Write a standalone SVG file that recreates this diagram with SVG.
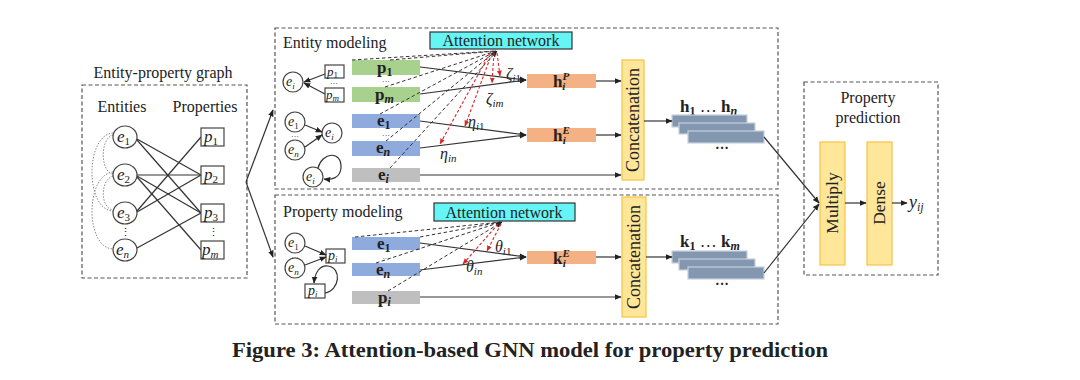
<svg xmlns="http://www.w3.org/2000/svg" width="1080" height="380" viewBox="0 0 1080 380">
<defs>
<marker id="ar" viewBox="0 0 10 10" refX="9" refY="5" markerWidth="7" markerHeight="7" markerUnits="userSpaceOnUse" orient="auto"><path d="M0,1 L10,5 L0,9 z" fill="#222"/></marker>
<marker id="arr" viewBox="0 0 10 10" refX="9" refY="5" markerWidth="6" markerHeight="6" markerUnits="userSpaceOnUse" orient="auto"><path d="M0,1 L10,5 L0,9 z" fill="#d9262a"/></marker>
<style>
text{font-family:"Liberation Serif","Times New Roman",serif;fill:#222}
.dash{fill:none;stroke:#555;stroke-width:1.2;stroke-dasharray:4,2.5}
.ln{stroke:#333;stroke-width:1.2;fill:none}
.dl{stroke:#333;stroke-width:1;stroke-dasharray:3.5,2.5;fill:none}
.rd{stroke:#d9262a;stroke-width:1.1;stroke-dasharray:3,2;fill:none}
.dot{stroke:#888;stroke-width:1;stroke-dasharray:1.5,1.5;fill:none}
.nd{fill:#fff;stroke:#444;stroke-width:1.2}
.g{fill:#a9d18e}.b{fill:#8faadc}.gr{fill:#bfbfbf}.o{fill:#f4b183}
.att{fill:#66f5f5;stroke:#333;stroke-width:1.2}
.cat{fill:#ffe699;stroke:#f7c345;stroke-width:1.2}
.stk{fill:#8497b0;stroke:#c7d0dc;stroke-width:1.2}
.it{font-style:italic}
.bd{font-weight:bold}
.el{font-size:8px;text-anchor:middle}
</style>
</defs>
<rect width="1080" height="380" fill="#fff"/>

<!-- Entity-property graph -->
<g id="graph">
<text x="163" y="78" font-size="16" text-anchor="middle">Entity-property graph</text>
<rect class="dash" x="82" y="85" width="165" height="193"/>
<text x="122" y="112" font-size="16" text-anchor="middle">Entities</text>
<text x="205" y="112" font-size="16" text-anchor="middle">Properties</text>
<g class="ln">
<line x1="137" y1="139" x2="201" y2="175"/>
<line x1="137" y1="140" x2="201" y2="213"/>
<line x1="137" y1="175" x2="201" y2="175"/>
<line x1="137" y1="176" x2="201" y2="213"/>
<line x1="137" y1="177" x2="201" y2="250"/>
<line x1="137" y1="211" x2="201" y2="137"/>
<line x1="137" y1="212" x2="201" y2="175"/>
<line x1="137" y1="248" x2="201" y2="213"/>
</g>
<path class="dot" d="M113,135 C100,138 100,172 113,174"/>
<path class="dot" d="M113,133 C85,135 85,210 113,211"/>
<path class="dot" d="M113,172 C85,175 85,248 113,249"/>
<path class="dot" d="M113,176 C100,180 100,208 113,210"/>
<g id="e1n"><ellipse class="nd" cx="125" cy="137" rx="12" ry="11"/><text x="117" y="142" font-size="17" class="it">e<tspan font-size="11" dy="3" font-style="normal">1</tspan></text></g>
<g id="e2n"><ellipse class="nd" cx="125" cy="175" rx="12" ry="11"/><text x="117" y="180" font-size="17" class="it">e<tspan font-size="11" dy="3" font-style="normal">2</tspan></text></g>
<g id="e3n"><ellipse class="nd" cx="125" cy="213" rx="12" ry="11"/><text x="117" y="218" font-size="17" class="it">e<tspan font-size="11" dy="3" font-style="normal">3</tspan></text></g>
<text x="125" y="236" font-size="11" text-anchor="middle">⋮</text>
<g id="enn"><ellipse class="nd" cx="125" cy="250" rx="12" ry="11"/><text x="116" y="255" font-size="17" class="it">e<tspan font-size="11" dy="3">n</tspan></text></g>
<g id="p1n"><rect class="nd" x="201" y="128" width="23" height="18"/><text x="204" y="142" font-size="17" class="it">p<tspan font-size="11" dy="3" font-style="normal">1</tspan></text></g>
<g id="p2n"><rect class="nd" x="201" y="166" width="23" height="18"/><text x="204" y="180" font-size="17" class="it">p<tspan font-size="11" dy="3" font-style="normal">2</tspan></text></g>
<g id="p3n"><rect class="nd" x="201" y="204" width="23" height="18"/><text x="204" y="218" font-size="17" class="it">p<tspan font-size="11" dy="3" font-style="normal">3</tspan></text></g>
<text x="213" y="236" font-size="11" text-anchor="middle">⋮</text>
<g id="pmn"><rect class="nd" x="201" y="241" width="23" height="18"/><text x="202" y="255" font-size="17" class="it">p<tspan font-size="11" dy="3">m</tspan></text></g>
</g>

<!-- Entity modeling -->
<g id="entity-modeling">
<rect class="dash" x="275" y="28" width="503" height="161"/>
<text x="283" y="48" font-size="16">Entity modeling</text>
<rect class="att" x="430" y="32" width="142" height="17"/>
<text x="501" y="46" font-size="16" text-anchor="middle">Attention network</text>
<ellipse class="nd" cx="293" cy="82" rx="10" ry="10"/><text x="286" y="86" font-size="14" class="it">e<tspan font-size="9" dy="3">i</tspan></text>
<rect class="nd" x="325" y="65" width="19" height="13"/><text x="327" y="76" font-size="13" class="it">p<tspan font-size="9" dy="2" font-style="normal">1</tspan></text>
<text x="334" y="86" class="el">···</text>
<rect class="nd" x="325" y="88" width="19" height="14"/><text x="326" y="99" font-size="13" class="it">p<tspan font-size="9" dy="2">m</tspan></text>
<line class="ln" x1="325" y1="74" x2="304" y2="82" marker-end="url(#ar)"/>
<line class="ln" x1="325" y1="94" x2="304" y2="83" marker-end="url(#ar)"/>
<ellipse class="nd" cx="295" cy="122" rx="10" ry="10"/><text x="288" y="126" font-size="14" class="it">e<tspan font-size="9" dy="3" font-style="normal">1</tspan></text>
<text x="295" y="139" class="el">···</text>
<ellipse class="nd" cx="295" cy="150" rx="10" ry="10"/><text x="288" y="154" font-size="14" class="it">e<tspan font-size="9" dy="3">n</tspan></text>
<ellipse class="nd" cx="332" cy="133" rx="10" ry="10"/><text x="325" y="137" font-size="14" class="it">e<tspan font-size="9" dy="3">i</tspan></text>
<line class="ln" x1="305" y1="125" x2="322" y2="132" marker-end="url(#ar)"/>
<line class="ln" x1="305" y1="147" x2="322" y2="135" marker-end="url(#ar)"/>
<ellipse class="nd" cx="313" cy="177" rx="10" ry="10"/><text x="306" y="181" font-size="14" class="it">e<tspan font-size="9" dy="3">i</tspan></text>
<path class="ln" d="M318,168 C322,152 342,150 341,168 C340,178 332,180 324,179" marker-end="url(#ar)"/>
<rect class="g" x="352" y="60" width="68" height="15"/>
<text x="377" y="73" font-size="17" class="bd">p<tspan font-size="12" dy="3">1</tspan></text>
<text x="386" y="84" class="el">···</text>
<rect class="g" x="352" y="87" width="68" height="15"/>
<text x="375" y="100" font-size="17" class="bd">p<tspan font-size="12" dy="3" class="it">m</tspan></text>
<rect class="b" x="352" y="114" width="68" height="14"/>
<text x="377" y="126" font-size="17" class="bd">e<tspan font-size="12" dy="3">1</tspan></text>
<text x="386" y="138" class="el">···</text>
<rect class="b" x="352" y="141" width="68" height="15"/>
<text x="376" y="153" font-size="17" class="bd">e<tspan font-size="12" dy="3" class="it">n</tspan></text>
<rect class="gr" x="352" y="168" width="68" height="14"/>
<text x="378" y="180" font-size="17" class="bd">e<tspan font-size="12" dy="3" class="it">i</tspan></text>
<rect class="o" x="527" y="74" width="69" height="14"/>
<text x="553" y="87" font-size="17" class="bd">h<tspan font-size="11" dy="-7" class="it">P</tspan><tspan font-size="11" dx="-7" dy="10" class="it">i</tspan></text>
<rect class="o" x="527" y="128" width="69" height="14"/>
<text x="553" y="141" font-size="17" class="bd">h<tspan font-size="11" dy="-7" class="it">E</tspan><tspan font-size="11" dx="-7" dy="10" class="it">i</tspan></text>
<rect class="cat" x="622" y="60" width="22" height="120"/>
<text transform="translate(639,120) rotate(-90)" font-size="18" text-anchor="middle">Concatenation</text>
<text x="506" y="79" font-size="16" class="it">ζ<tspan font-size="11" dy="3">i</tspan><tspan font-size="11" font-style="normal">1</tspan></text>
<text x="486" y="104" font-size="16" class="it">ζ<tspan font-size="11" dy="3">im</tspan></text>
<text x="468" y="127" font-size="16" class="it">η<tspan font-size="11" dy="3">i</tspan><tspan font-size="11" font-style="normal">1</tspan></text>
<text x="440" y="159" font-size="16" class="it">η<tspan font-size="11" dy="3">in</tspan></text>
</g>

<!-- Property modeling -->
<g id="property-modeling">
<rect class="dash" x="275" y="195" width="503" height="129"/>
<text x="283" y="217" font-size="16">Property modeling</text>
<rect class="att" x="434" y="203" width="141" height="18"/>
<text x="504" y="218" font-size="16" text-anchor="middle">Attention network</text>
<ellipse class="nd" cx="295" cy="243" rx="10" ry="10"/><text x="288" y="247" font-size="14" class="it">e<tspan font-size="9" dy="3" font-style="normal">1</tspan></text>
<text x="295" y="260" font-size="7" text-anchor="middle">···</text>
<ellipse class="nd" cx="295" cy="268" rx="10" ry="10"/><text x="288" y="272" font-size="14" class="it">e<tspan font-size="9" dy="3">n</tspan></text>
<rect class="nd" x="326" y="249" width="19" height="14"/><text x="328" y="260" font-size="14" class="it">p<tspan font-size="9" dy="2">i</tspan></text>
<line class="ln" x1="305" y1="246" x2="326" y2="255" marker-end="url(#ar)"/>
<line class="ln" x1="305" y1="265" x2="326" y2="257" marker-end="url(#ar)"/>
<rect class="nd" x="305" y="284" width="20" height="14"/><text x="308" y="295" font-size="14" class="it">p<tspan font-size="9" dy="2">i</tspan></text>
<path class="ln" d="M325,293 C340,290 342,268 328,266 C320,265 315,272 314,283" marker-end="url(#ar)"/>
<rect class="b" x="352" y="237" width="68" height="13"/>
<text x="377" y="249" font-size="17" class="bd">e<tspan font-size="12" dy="3">1</tspan></text>
<text x="386" y="261" font-size="7" text-anchor="middle">···</text>
<rect class="b" x="352" y="263" width="68" height="13"/>
<text x="376" y="275" font-size="17" class="bd">e<tspan font-size="12" dy="3" class="it">n</tspan></text>
<rect class="gr" x="352" y="291" width="68" height="13"/>
<text x="378" y="303" font-size="17" class="bd">p<tspan font-size="12" dy="3" class="it">i</tspan></text>
<rect class="o" x="527" y="251" width="69" height="13"/>
<text x="553" y="264" font-size="17" class="bd">k<tspan font-size="11" dy="-7" class="it">E</tspan><tspan font-size="11" dx="-7" dy="10" class="it">i</tspan></text>
<rect class="cat" x="622" y="197" width="24" height="120"/>
<text transform="translate(640,257) rotate(-90)" font-size="18" text-anchor="middle">Concatenation</text>
<text x="495" y="252" font-size="16" class="it">θ<tspan font-size="11" dy="3">i</tspan><tspan font-size="11" font-style="normal">1</tspan></text>
<text x="466" y="272" font-size="16" class="it">θ<tspan font-size="11" dy="3">in</tspan></text>
</g>

<g id="h-stack">
<text x="680" y="112" font-size="17" class="bd">h<tspan font-size="12" dy="3">1</tspan><tspan dy="-3" font-weight="normal"> … </tspan>h<tspan font-size="12" dy="3" class="it">n</tspan></text>
<rect class="stk" x="672" y="115" width="75" height="12"/>
<rect class="stk" x="679" y="123" width="76" height="11"/>
<rect class="stk" x="688" y="131" width="76" height="12"/>
<text x="722" y="153" font-size="14" text-anchor="middle" class="bd">···</text>
</g>
<g id="k-stack">
<text x="680" y="247" font-size="17" class="bd">k<tspan font-size="12" dy="3">1</tspan><tspan dy="-3" font-weight="normal"> … </tspan>k<tspan font-size="12" dy="3" class="it">m</tspan></text>
<rect class="stk" x="672" y="251" width="75" height="12"/>
<rect class="stk" x="679" y="259" width="76" height="11"/>
<rect class="stk" x="688" y="267" width="76" height="12"/>
<text x="722" y="289" font-size="14" text-anchor="middle" class="bd">···</text>
</g>

<g id="prediction">
<rect class="dash" x="804" y="82" width="134" height="193"/>
<text x="868" y="103" font-size="16" text-anchor="middle">Property</text>
<text x="868" y="123" font-size="16" text-anchor="middle">prediction</text>
<rect class="cat" x="820" y="142" width="25" height="123"/>
<text transform="translate(838,203) rotate(-90)" font-size="17.5" text-anchor="middle">Multiply</text>
<rect class="cat" x="867" y="142" width="25" height="123"/>
<text transform="translate(885,203) rotate(-90)" font-size="17.5" text-anchor="middle">Dense</text>
<text x="909" y="208" font-size="18" class="it">y<tspan font-size="12" dy="3">ij</tspan></text>
</g>

<g id="connectors">
<line class="ln" x1="246" y1="182" x2="273" y2="110" marker-end="url(#ar)"/>
<line class="ln" x1="246" y1="182" x2="273" y2="257" marker-end="url(#ar)"/>
<line class="ln" x1="420" y1="67" x2="526" y2="80" marker-end="url(#ar)"/>
<line class="ln" x1="420" y1="94" x2="526" y2="80" marker-end="url(#ar)"/>
<line class="ln" x1="420" y1="121" x2="526" y2="135" marker-end="url(#ar)"/>
<line class="ln" x1="420" y1="148" x2="526" y2="135" marker-end="url(#ar)"/>
<line class="ln" x1="420" y1="175" x2="621" y2="175" marker-end="url(#ar)"/>
<line class="ln" x1="596" y1="81" x2="621" y2="81" marker-end="url(#ar)"/>
<line class="ln" x1="596" y1="135" x2="621" y2="135" marker-end="url(#ar)"/>
<line class="ln" x1="420" y1="243" x2="526" y2="257" marker-end="url(#ar)"/>
<line class="ln" x1="420" y1="270" x2="526" y2="257" marker-end="url(#ar)"/>
<line class="ln" x1="420" y1="297" x2="621" y2="297" marker-end="url(#ar)"/>
<line class="ln" x1="596" y1="257" x2="621" y2="257" marker-end="url(#ar)"/>
<line class="ln" x1="644" y1="121" x2="672" y2="121" marker-end="url(#ar)"/>
<line class="ln" x1="646" y1="257" x2="672" y2="257" marker-end="url(#ar)"/>
<line class="ln" x1="764" y1="137" x2="819" y2="203" marker-end="url(#ar)"/>
<line class="ln" x1="764" y1="273" x2="819" y2="204" marker-end="url(#ar)"/>
<line class="ln" x1="845" y1="203" x2="866" y2="203" marker-end="url(#ar)"/>
<line class="ln" x1="892" y1="203" x2="907" y2="203" marker-end="url(#ar)"/>
<line class="dl" x1="352" y1="60" x2="496" y2="51"/>
<line class="dl" x1="390" y1="60" x2="496" y2="51"/>
<line class="dl" x1="385" y1="87" x2="496" y2="51"/>
<line class="dl" x1="380" y1="114" x2="496" y2="51"/>
<line class="dl" x1="386" y1="141" x2="496" y2="51"/>
<line class="dl" x1="390" y1="168" x2="497" y2="51" marker-end="url(#ar)"/>
<line class="rd" x1="497" y1="53" x2="500" y2="76" marker-end="url(#arr)"/>
<line class="rd" x1="494" y1="53" x2="492" y2="83" marker-end="url(#arr)"/>
<line class="rd" x1="492" y1="53" x2="465" y2="126" marker-end="url(#arr)"/>
<line class="rd" x1="490" y1="53" x2="440" y2="144" marker-end="url(#arr)"/>
<line class="dl" x1="355" y1="237" x2="501" y2="222"/>
<line class="dl" x1="420" y1="237" x2="501" y2="222"/>
<line class="dl" x1="376" y1="263" x2="501" y2="222"/>
<line class="dl" x1="388" y1="291" x2="502" y2="222" marker-end="url(#ar)"/>
<line class="rd" x1="501" y1="224" x2="487" y2="251" marker-end="url(#arr)"/>
<line class="rd" x1="498" y1="224" x2="463" y2="264" marker-end="url(#arr)"/>
</g>

<text x="530" y="357" font-size="21.5" class="bd" text-anchor="middle" textLength="596" lengthAdjust="spacingAndGlyphs">Figure 3: Attention-based GNN model for property prediction</text>
</svg>
